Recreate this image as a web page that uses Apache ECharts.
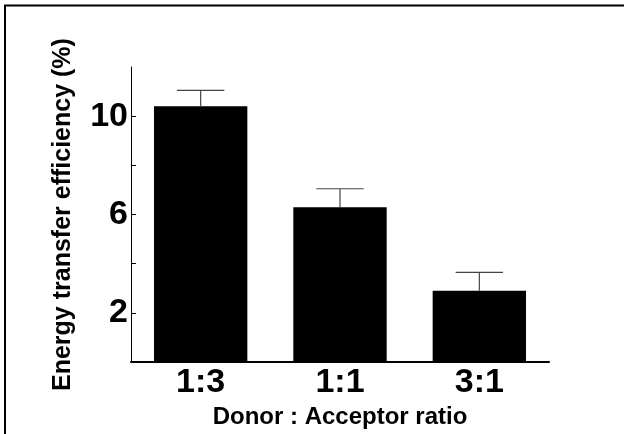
<!DOCTYPE html>
<html>
<head>
<meta charset="utf-8">
<script src="https://cdn.jsdelivr.net/npm/echarts@6/dist/echarts.min.js"></script>
<style>
  html, body { margin: 0; padding: 0; background: #fff; }
  #chart { width: 624px; height: 434px; }
</style>
</head>
<body>
<div id="chart"></div>
<script>
// Donor : acceptor ratios on the x axis
const categories = ['1:3', '1:1', '3:1'];
// Mean energy transfer efficiency (%)
const efficiency = [10.4, 6.3, 2.9];
// Upper error (%) above each mean
const errorUp = [0.65, 0.75, 0.75];
// Labelled and ticked values on the y axis
const yLabelValues = [2, 6, 10];
const yTickValues = [2, 4, 6, 8, 10];

const FONT = '"Liberation Sans", Arial, Helvetica, sans-serif';

const errorData = categories.map((c, i) => [i, efficiency[i], efficiency[i] + errorUp[i]]);

const chart = echarts.init(document.getElementById('chart'), null, { renderer: 'canvas' });

chart.setOption({
  backgroundColor: '#ffffff',
  animation: false,
  grid: { left: 131, right: 75, top: 67, bottom: 67 },
  graphic: [
    {
      type: 'polyline',
      shape: { points: [[5, 440], [5, 5.5], [630, 5.5]] },
      style: { stroke: '#000', lineWidth: 2, fill: null },
      silent: true
    }
  ],
  xAxis: {
    type: 'category',
    data: categories,
    name: 'Donor : Acceptor ratio',
    nameLocation: 'middle',
    nameGap: 32,
    nameTextStyle: { fontFamily: FONT, fontWeight: 'bold', fontSize: 24, color: '#000' },
    axisLine: { lineStyle: { color: '#000', width: 2 } },
    axisTick: { show: false },
    axisLabel: { fontFamily: FONT, fontWeight: 'bold', fontSize: 34, color: '#000', margin: 4 },
    splitLine: { show: false }
  },
  yAxis: {
    type: 'value',
    min: 0,
    max: 12,
    interval: 2,
    name: 'Energy transfer efficiency (%)',
    nameLocation: 'middle',
    nameGap: 55,
    nameTextStyle: { fontFamily: FONT, fontWeight: 'bold', fontSize: 25, color: '#000' },
    axisLine: { show: true, lineStyle: { color: '#000', width: 1 } },
    axisTick: { show: true, inside: true, length: 5, customValues: yTickValues, lineStyle: { color: '#000', width: 1 } },
    axisLabel: { fontFamily: FONT, fontWeight: 'bold', fontSize: 34, color: '#000', margin: 3, customValues: yLabelValues },
    splitLine: { show: false }
  },
  series: [
    {
      type: 'bar',
      data: efficiency,
      barWidth: '67%',
      itemStyle: { color: '#000' },
      z: 2
    },
    {
      type: 'custom',
      data: errorData,
      z: 3,
      renderItem: function (params, api) {
        const x = api.value(0);
        const base = api.coord([x, api.value(1)]);
        const top = api.coord([x, api.value(2)]);
        const half = api.size([1, 0])[0] * 0.17;
        const style = { stroke: '#444', lineWidth: 1.2 };
        return {
          type: 'group',
          children: [
            { type: 'line', shape: { x1: base[0], y1: base[1], x2: top[0], y2: top[1] }, style: style },
            { type: 'line', shape: { x1: top[0] - half, y1: top[1], x2: top[0] + half, y2: top[1] }, style: style }
          ]
        };
      }
    }
  ]
});
</script>
</body>
</html>
